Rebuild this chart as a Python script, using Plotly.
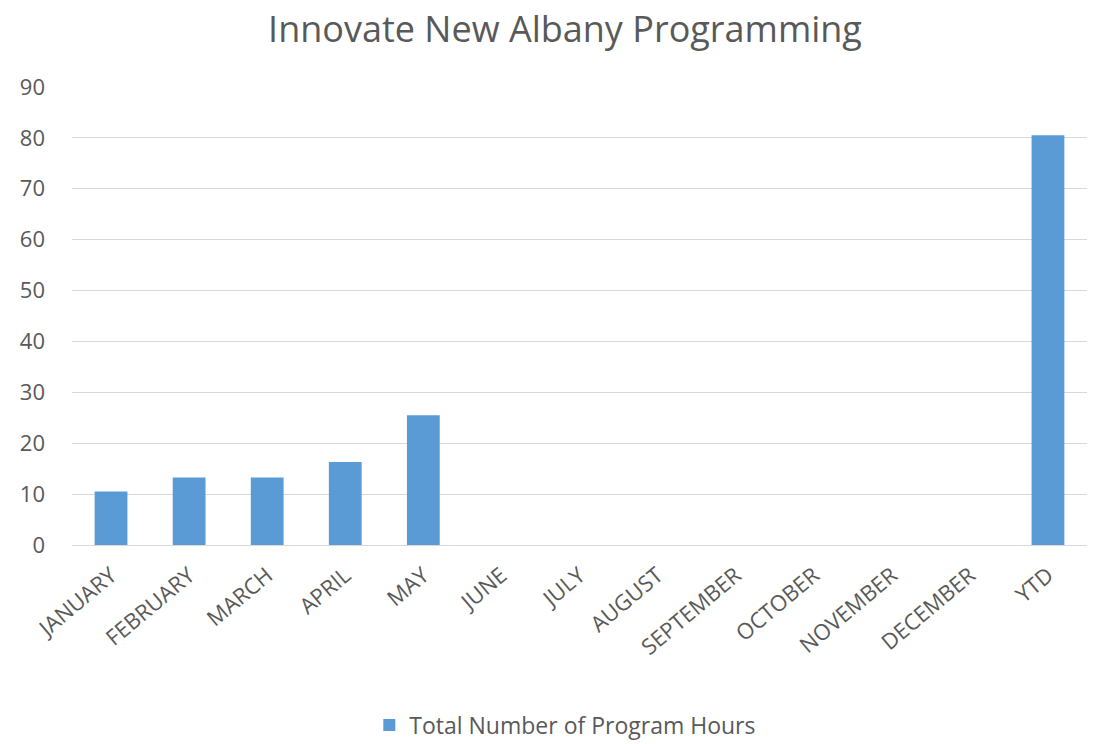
import plotly.graph_objects as go

categories = ["JANUARY", "FEBRUARY", "MARCH", "APRIL", "MAY", "JUNE", "JULY",
              "AUGUST", "SEPTEMBER", "OCTOBER", "NOVEMBER", "DECEMBER", "YTD"]
hours = [10.5, 13.25, 13.25, 16.3, 25.5, None, None, None, None, None, None, None, 80.5]
series_name = "Total Number of Program Hours"
y_ticks = [0, 10, 20, 30, 40, 50, 60, 70, 80, 90]

font_family = "Open Sans, Liberation Sans, sans-serif"
text_color = "#595959"

W, H = 1103, 736

fig = go.Figure()
fig.add_trace(go.Bar(
    x=categories, y=hours, name=series_name,
    marker=dict(color="#5b9bd5", line=dict(width=0)),
    showlegend=True,
))

fig.update_layout(
    width=W, height=H,
    paper_bgcolor="white", plot_bgcolor="white",
    margin=dict(l=64, r=24, t=79, b=199, autoexpand=False),
    bargap=0.58,
    font=dict(family=font_family, color=text_color, size=15),
    title=dict(text="Innovate New Albany Programming", x=0.505, xanchor="center",
               y=1 - 21 / H, yanchor="middle",
               font=dict(size=36, color=text_color, family=font_family)),
    legend=dict(orientation="h", x=0.486, xanchor="center",
                yref="container", y=1 - 717 / H, yanchor="middle",
                font=dict(size=23, color=text_color),
                itemwidth=30),
    xaxis=dict(
        type="category", tickangle=-40, automargin=False,
        showline=True, linecolor="#d9d9d9", linewidth=1,
        showgrid=False, ticks="", ticklabelstandoff=8,
        tickfont=dict(size=22, color=text_color),
    ),
    yaxis=dict(
        range=[0, 90], tickvals=y_ticks, automargin=False,
        showgrid=True, gridcolor="#d9d9d9", gridwidth=1,
        zeroline=False, showline=False, ticks="",
        ticklabelstandoff=26,
        tickfont=dict(size=22, color=text_color),
    ),
)

fig.write_html("out.html")
